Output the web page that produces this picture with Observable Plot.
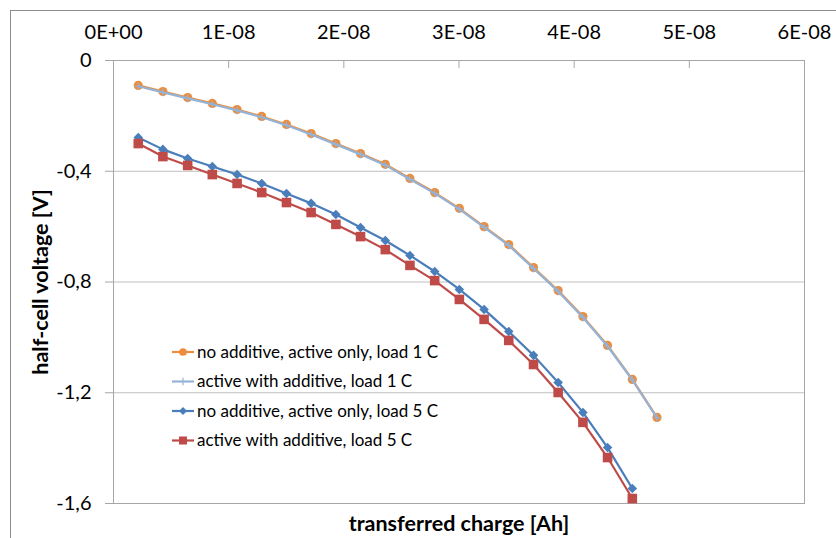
<!DOCTYPE html>
<html><head><meta charset="utf-8">
<script src="https://cdn.jsdelivr.net/npm/d3@7"></script>
<script src="https://cdn.jsdelivr.net/npm/@observablehq/plot@0.6"></script>
<style>
html,body{margin:0;padding:0;background:#fff;}
#wrap{position:relative;width:836px;height:538px;overflow:hidden;font-family:Lato,sans-serif;background:#fff;}
#wrap svg.chart{position:absolute;left:0;top:0;}
#border{position:absolute;left:10px;top:10px;width:1000px;height:1000px;border:1px solid #8c8c8c;box-sizing:border-box;pointer-events:none;z-index:5;}
#legend{position:absolute;left:0;top:0;z-index:4;}
</style></head><body>
<div id="wrap"><div id="border"></div></div>
<script>
// ---- data ----
const charge = [2.15e-9, 4.29e-9, 6.44e-9, 8.58e-9, 1.073e-8, 1.287e-8, 1.502e-8, 1.716e-8, 1.931e-8, 2.145e-8, 2.360e-8,
                2.574e-8, 2.789e-8, 3.003e-8, 3.218e-8, 3.432e-8, 3.647e-8, 3.861e-8, 4.076e-8, 4.290e-8, 4.505e-8, 4.719e-8];
const v1cNoAdd = [-0.090, -0.112, -0.134, -0.155, -0.177, -0.202, -0.231, -0.264, -0.300, -0.336, -0.375,
                  -0.426, -0.477, -0.534, -0.600, -0.665, -0.748, -0.831, -0.925, -1.029, -1.152, -1.289];
const v1cAdd = [-0.093, -0.115, -0.137, -0.158, -0.180, -0.205, -0.234, -0.267, -0.303, -0.339, -0.378,
                -0.429, -0.480, -0.537, -0.603, -0.668, -0.751, -0.834, -0.928, -1.032, -1.154, -1.291];
const v5cNoAdd = [-0.278, -0.321, -0.354, -0.383, -0.412, -0.444, -0.480, -0.516, -0.556, -0.603, -0.650,
                  -0.704, -0.762, -0.827, -0.899, -0.979, -1.065, -1.163, -1.271, -1.398, -1.546];
const v5cAdd = [-0.300, -0.347, -0.379, -0.412, -0.444, -0.477, -0.513, -0.549, -0.592, -0.636, -0.683,
                -0.740, -0.795, -0.863, -0.935, -1.011, -1.098, -1.199, -1.307, -1.434, -1.582];
const seriesNames = ["no additive, active only, load 1 C", "active with additive, load 1 C",
                     "no additive, active only, load 5 C", "active with additive, load 5 C"];
const xTicks = [0, 1e-8, 2e-8, 3e-8, 4e-8, 5e-8, 6e-8];
const xTickLabels = ["0E+00", "1E-08", "2E-08", "3E-08", "4E-08", "5E-08", "6E-08"];
const yTicks = [0, -0.4, -0.8, -1.2, -1.6];
const yTickLabels = ["0", "-0,4", "-0,8", "-1,2", "-1,6"];
const xTitle = "transferred charge [Ah]";
const yTitle = "half-cell voltage [V]";

// ---- styles ----
const seriesValues = [v1cNoAdd, v1cAdd, v5cNoAdd, v5cAdd];
const styles = [
  {color: "#EB8D3C", symbol: "circle", r: 4.6, filled: true},
  {color: "#95B3D7", symbol: "plus", r: 2.6, filled: false},
  {color: "#4A7EBB", symbol: "diamond2", r: 4.3, filled: true},
  {color: "#BE4B48", symbol: "square", r: 5.4, filled: true}
];

const rows = [];
seriesNames.forEach((name, s) => {
  seriesValues[s].forEach((v, i) => rows.push({series: name, s, x: charge[i], y: v}));
});

const marks = [
  Plot.gridY(yTicks, {stroke: "#bfbfbf", strokeOpacity: 1}),
  Plot.frame({stroke: "#a6a6a6"}),
  Plot.axisY(yTicks, {tickSize: 8, tickPadding: 14, stroke: "#a6a6a6", fill: "#000",
    tickFormat: d => yTickLabels[yTicks.indexOf(d)], label: null}),
  Plot.axisX(xTicks, {anchor: "top", tickSize: 0, tickPadding: 22, fill: "#000",
    tickFormat: d => xTickLabels[xTicks.indexOf(d)], label: null}),
  Plot.axisX(xTicks, {anchor: "top", tickSize: -7, stroke: "#a6a6a6", tickFormat: () => "", label: null}),
  Plot.text([xTitle], {frameAnchor: "bottom", dy: 21, fontWeight: "bold", fontSize: 21.5, fill: "#000",
    textAnchor: "middle", lineAnchor: "middle"}),
  Plot.text([yTitle], {frameAnchor: "left", dx: -72, rotate: -90, fontWeight: "bold", fontSize: 21.5, fill: "#000",
    textAnchor: "middle", lineAnchor: "middle"})
];
seriesNames.forEach((name, s) => {
  const st = styles[s];
  const data = rows.filter(d => d.s === s);
  marks.push(Plot.line(data, {x: "x", y: "y", stroke: st.color, strokeWidth: 2.2}));
  marks.push(Plot.dot(data, {x: "x", y: "y", symbol: st.symbol, r: st.r,
    fill: st.filled ? st.color : "none", stroke: st.filled ? "none" : st.color, strokeWidth: 1.2}));
});

const chart = Plot.plot({
  width: 836, height: 538,
  marginLeft: 113, marginRight: 32, marginTop: 60, marginBottom: 35,
  x: {domain: [0, 6e-8]},
  y: {domain: [-1.6, 0]},
  style: {fontFamily: "Lato, sans-serif", fontSize: "20px", color: "#000", background: "transparent"},
  marks
});
chart.classList.add("chart");
const wrap = document.getElementById("wrap");
wrap.insertBefore(chart, wrap.firstChild);

// ---- legend (overlay) ----
const symMap = {circle: d3.symbolCircle, plus: d3.symbolPlus, diamond2: d3.symbolDiamond2, square: d3.symbolSquare};
const leg = d3.select(wrap).append("svg").attr("id", "legend").attr("width", 836).attr("height", 538)
  .style("font-family", "Lato, sans-serif");
const legX = 172, legY = 352, legStep = 29.5;
seriesNames.forEach((name, s) => {
  const st = styles[s];
  const g = leg.append("g").attr("transform", `translate(${legX},${legY + s * legStep})`);
  g.append("line").attr("x1", 0).attr("x2", 22).attr("stroke", st.color).attr("stroke-width", 2.2);
  g.append("path").attr("transform", "translate(11,0)")
    .attr("d", d3.symbol(symMap[st.symbol], Math.PI * st.r * st.r * (st.filled ? 0.7 : 1))())
    .attr("fill", st.filled ? st.color : "none").attr("stroke", st.filled ? "none" : st.color).attr("stroke-width", 1.2);
  g.append("text").attr("x", 25).attr("dy", "0.35em").attr("font-size", 17).attr("fill", "#000").text(name);
});
</script>
</body></html>
